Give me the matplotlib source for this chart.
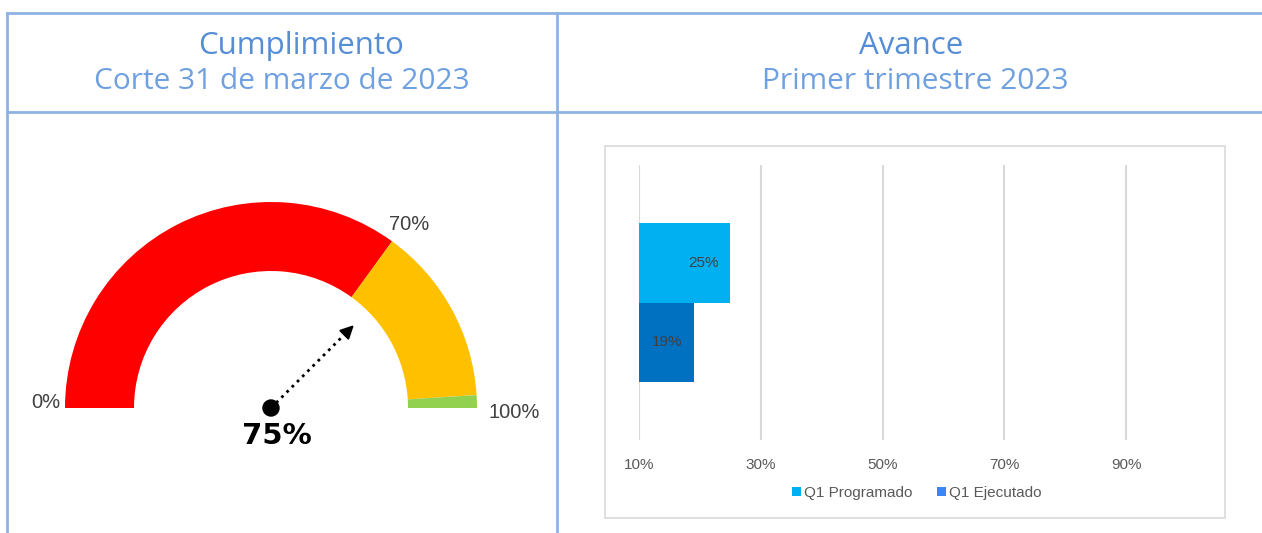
import numpy as np
import matplotlib
matplotlib.use('Agg')
import matplotlib.pyplot as plt
from matplotlib.patches import Wedge, Rectangle, Patch, Circle
from matplotlib.lines import Line2D

W, H = 1262, 533

# gauge data
gauge_bands = [0.70, 0.28, 0.02]
gauge_colors = ['#FF0000', '#FFC000', '#92D050']
gauge_value = 0.75
gauge_labels = ['0%', '70%', '100%']

# bar data
series = ['Q1 Programado', 'Q1 Ejecutado']
values = [0.25, 0.19]
bar_colors = ['#00B0F0', '#0070C0']
legend_colors = ['#00B0F0', '#3D85F0']
xticks = [0.1, 0.3, 0.5, 0.7, 0.9]

border = '#8DB3E2'
title_col = '#558ED5'
sub_col = '#6FA0E0'


def fx(x):
    return x / W


def fy(y):
    return 1 - y / H


fig = plt.figure(figsize=(W / 100, H / 100), dpi=100)

# lineas de la tabla
for (x0, y0, x1, y1) in [(7, 13, W, 13), (7, 112, W, 112), (7, 13, 7, H), (557, 13, 557, H)]:
    fig.add_artist(Line2D([fx(x0), fx(x1)], [fy(y0), fy(y1)], color=border, lw=2))

# titulos
fig.text(fx(301), fy(46), 'Cumplimiento', ha='center', va='center', fontsize=22.5,
         color=title_col, family='Open Sans')
fig.text(fx(282), fy(81), 'Corte 31 de marzo de 2023', ha='center', va='center', fontsize=21.5,
         color=sub_col, family='Open Sans')
fig.text(fx(911), fy(46), 'Avance', ha='center', va='center', fontsize=22.5,
         color=title_col, family='Open Sans')
fig.text(fx(915), fy(81), 'Primer trimestre 2023', ha='center', va='center', fontsize=21.5,
         color=sub_col, family='Open Sans')

# ---------------- gauge
ag = fig.add_axes([0, 0, fx(557), fy(113)])
ag.set_xlim(0, 557)
ag.set_ylim(0, 533 - 113)
ag.axis('off')
cx, cy = 271, 533 - 408
r_out, r_in = 206, 137
start = 0.0
for frac, col in zip(gauge_bands, gauge_colors):
    t1 = 180 - start * 180
    t2 = 180 - (start + frac) * 180
    ag.add_patch(Wedge((cx, cy), r_out, t2, t1, width=r_out - r_in, facecolor=col, edgecolor='none'))
    start += frac

ang = np.radians(180 - gauge_value * 180)
r_needle = 120
ex, ey = cx + r_needle * np.cos(ang), cy + r_needle * np.sin(ang)
ag.plot([cx, ex - 8 * np.cos(ang)], [cy, ey - 8 * np.sin(ang)], color='black', lw=2, ls=':')
ag.annotate('', xy=(ex, ey), xytext=(ex - 12 * np.cos(ang), ey - 12 * np.sin(ang)),
            arrowprops=dict(arrowstyle='-|>,head_length=0.8,head_width=0.4', color='black', lw=1.5))
ag.add_patch(Circle((cx, cy), 8, color='black', zorder=5))

ag.text(cx + 6, 533 - 436, f'{gauge_value:.0%}', ha='center', va='center', fontsize=21,
        fontweight='bold', color='black', family='DejaVu Sans')
lab_font = dict(fontsize=14.5, color='#404040', family='Liberation Sans', va='center')
ag.text(60, 533 - 402, gauge_labels[0], ha='right', **lab_font)
ag.text(409, 533 - 225, gauge_labels[1], ha='center', **lab_font)
ag.text(488, 533 - 413, gauge_labels[2], ha='left', **lab_font)

# ---------------- barras
fig.add_artist(Rectangle((fx(605), fy(518)), fx(1225 - 605), (518 - 146) / H,
                         transform=fig.transFigure, facecolor='none', edgecolor='#D9D9D9', lw=1.2))

ab = fig.add_axes([fx(639), fy(440), fx(1187 - 639), (440 - 165) / H])
pos = [1, 0]
bars = ab.barh(pos, values, height=1.0, color=bar_colors, zorder=2)
ab.set_xlim(0.1, 1.0)
ab.set_ylim(-1.22, 2.22)
ab.set_xticks(xticks)
ab.set_xticklabels([f'{t:.0%}' for t in xticks], fontsize=11, color='#595959', family='Liberation Sans')
ab.set_yticks([])
ab.tick_params(axis='x', length=0, pad=13)
ab.grid(axis='x', color='#D9D9D9', lw=1.5, zorder=0)
for s in ab.spines.values():
    s.set_visible(False)
for b, v in zip(bars, values):
    ab.annotate(f'{v:.0%}', xy=(v, b.get_y() + b.get_height() / 2), xytext=(-8, 0),
                textcoords='offset points', ha='right', va='center', fontsize=11,
                color='#404040', family='Liberation Sans')

handles = [Patch(facecolor=c, edgecolor='none') for c in legend_colors]
fig.legend(handles, series, loc='center', bbox_to_anchor=(fx(917), fy(493)), ncol=2, frameon=False,
           prop=dict(family='Liberation Sans', size=11), labelcolor='#595959',
           handlelength=0.6, handleheight=0.6, handletextpad=0.2, columnspacing=1.6)

fig.savefig('out.png', dpi=100)
